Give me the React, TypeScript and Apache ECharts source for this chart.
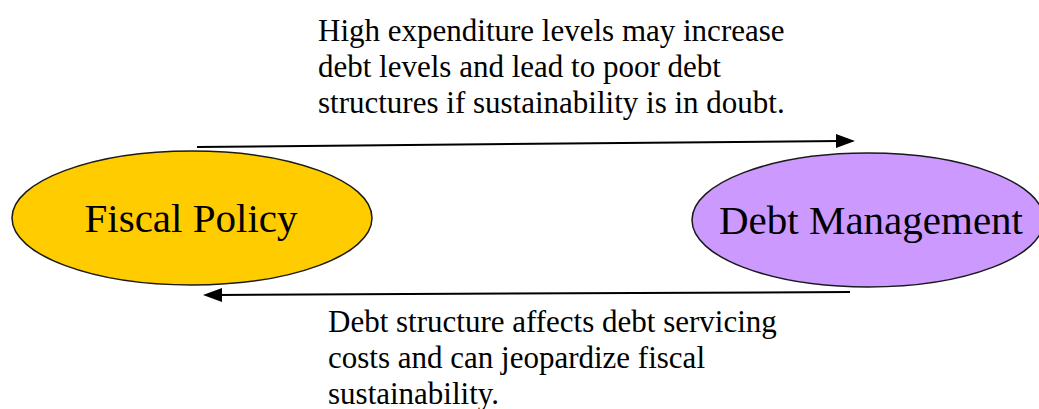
import React, { useEffect, useRef } from "react";
import * as echarts from "echarts";

const nodeLabels = ["Fiscal Policy", "Debt Management"];
const nodeColors = ["#FFCC00", "#CC99FF"];
const topNote = [
  "High expenditure levels may increase",
  "debt levels and lead to poor debt",
  "structures if sustainability is in doubt.",
];
const bottomNote = [
  "Debt structure affects debt servicing",
  "costs and can jeopardize fiscal",
  "sustainability.",
];

const FONT = '"Liberation Serif", "Times New Roman", serif';

export default function App() {
  const ref = useRef<HTMLDivElement>(null);
  useEffect(() => {
    if (!ref.current) return;
    const chart = echarts.init(ref.current, null, { renderer: "svg" });
    const ellipses = [
      { cx: 192, cy: 218, rx: 180, ry: 67 },
      { cx: 868, cy: 220, rx: 176, ry: 67 },
    ];
    const graphic: any[] = [];
    ellipses.forEach((e, i) => {
      graphic.push({
        type: "ellipse",
        shape: { cx: e.cx, cy: e.cy, rx: e.rx, ry: e.ry },
        style: { fill: nodeColors[i], stroke: "#1a1a1a", lineWidth: 1.5 },
      });
      graphic.push({
        type: "text",
        x: i === 1 ? 871 : 191,
        y: e.cy,
        style: {
          text: nodeLabels[i],
          font: `41px ${FONT}`,
          fill: "#000",
          align: "center",
          verticalAlign: "middle",
        },
      });
    });
    // top arrow (Fiscal -> Debt)
    graphic.push({
      type: "line",
      shape: { x1: 197, y1: 147, x2: 840, y2: 141 },
      style: { stroke: "#000", lineWidth: 2 },
    });
    graphic.push({
      type: "polygon",
      shape: { points: [[836, 134], [855, 141], [836, 148]] },
      style: { fill: "#000" },
    });
    // bottom arrow (Debt -> Fiscal)
    graphic.push({
      type: "line",
      shape: { x1: 850, y1: 292, x2: 218, y2: 295 },
      style: { stroke: "#000", lineWidth: 2 },
    });
    graphic.push({
      type: "polygon",
      shape: { points: [[222, 288], [203, 295], [222, 302]] },
      style: { fill: "#000" },
    });
    graphic.push({
      type: "text",
      x: 318,
      y: 12,
      style: {
        text: topNote.join("\n"),
        font: `31px ${FONT}`,
        lineHeight: 36,
        fill: "#000",
        align: "left",
        verticalAlign: "top",
      },
    });
    graphic.push({
      type: "text",
      x: 328,
      y: 303,
      style: {
        text: bottomNote.join("\n"),
        font: `31px ${FONT}`,
        lineHeight: 36,
        fill: "#000",
        align: "left",
        verticalAlign: "top",
      },
    });
    chart.setOption({
      animation: false,
      backgroundColor: "#fff",
      graphic,
    });
    return () => chart.dispose();
  }, []);
  return (
    <div
      ref={ref}
      style={{ position: "fixed", left: 0, top: 0, width: 1039, height: 409 }}
    />
  );
}
